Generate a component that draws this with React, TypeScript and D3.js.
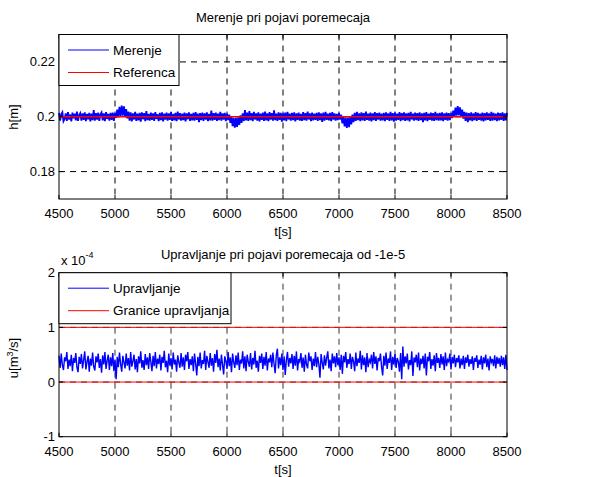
import React from 'react';
import { scaleLinear, line } from 'd3';

// time axis, 10 s step from 4500 to 8500
const tStart = 4500;
const tStep = 10;
const xTicks = [4500, 5000, 5500, 6000, 6500, 7000, 7500, 8000, 8500];

// level measurement h [m]
const merenje = [
  0.2014, 0.1986, 0.2009, 0.2016, 0.1984, 0.1992, 0.2012, 0.1985, 0.2017, 0.1990,
  0.2008, 0.1983, 0.2015, 0.1994, 0.2011, 0.1987, 0.2019, 0.1985, 0.2006, 0.2013,
  0.1986, 0.2012, 0.1989, 0.2016, 0.1984, 0.2010, 0.1991, 0.2014, 0.1983, 0.2011,
  0.1988, 0.2024, 0.1986, 0.2013, 0.1990, 0.2015, 0.1985, 0.2009, 0.2016, 0.1987,
  0.2012, 0.1984, 0.2017, 0.1992, 0.2010, 0.1986, 0.2014, 0.1989, 0.2015, 0.1985,
  0.2013, 0.1996, 0.2026, 0.2001, 0.2036, 0.2003, 0.2041, 0.2004, 0.2038, 0.2000,
  0.2028, 0.1994, 0.2019, 0.1986, 0.2016, 0.1983, 0.2012, 0.1990, 0.2018, 0.1985,
  0.2011, 0.1987, 0.2014, 0.1982, 0.2016, 0.1991, 0.2013, 0.1984, 0.2021, 0.1988,
  0.2010, 0.1986, 0.2015, 0.1989, 0.2012, 0.1985, 0.2017, 0.1992, 0.2009, 0.1984,
  0.2014, 0.1988, 0.2016, 0.1983, 0.2011, 0.1990, 0.2015, 0.1986, 0.2012, 0.1989,
  0.2017, 0.1985, 0.2010, 0.1987, 0.2014, 0.1984, 0.2019, 0.1990, 0.2013, 0.1986,
  0.2011, 0.1988, 0.2015, 0.1983, 0.2012, 0.1991, 0.2016, 0.1985, 0.2010, 0.1987,
  0.2014, 0.1986, 0.2017, 0.1989, 0.2011, 0.1980, 0.2013, 0.1988, 0.2015, 0.1985,
  0.2012, 0.1990, 0.2016, 0.1984, 0.2010, 0.1987, 0.2022, 0.1986, 0.2013, 0.1989,
  0.2015, 0.1985, 0.2011, 0.1988, 0.2018, 0.1986, 0.2012, 0.1990, 0.2014, 0.1984,
  0.2011, 0.1988, 0.2008, 0.1978, 0.2000, 0.1966, 0.1996, 0.1960, 0.1995, 0.1963,
  0.1998, 0.1970, 0.2005, 0.1978, 0.2012, 0.1984, 0.2024, 0.1987, 0.2015, 0.1985,
  0.2021, 0.1988, 0.2013, 0.1984, 0.2018, 0.1990, 0.2012, 0.1986, 0.2016, 0.1983,
  0.2011, 0.1989, 0.2015, 0.1985, 0.2019, 0.1987, 0.2012, 0.1984, 0.2017, 0.1990,
  0.2013, 0.1986, 0.2023, 0.1988, 0.2011, 0.1985, 0.2016, 0.1989, 0.2014, 0.1982,
  0.2012, 0.1987, 0.2015, 0.1984, 0.2018, 0.1990, 0.2011, 0.1986, 0.2014, 0.1988,
  0.2016, 0.1983, 0.2012, 0.1989, 0.2015, 0.1986, 0.2010, 0.1985, 0.2017, 0.1988,
  0.2013, 0.1986, 0.2019, 0.1990, 0.2012, 0.1984, 0.2015, 0.1987, 0.2011, 0.1989,
  0.2014, 0.1985, 0.2016, 0.1988, 0.2012, 0.1981, 0.2015, 0.1986, 0.2018, 0.1989,
  0.2011, 0.1987, 0.2014, 0.1984, 0.2017, 0.1990, 0.2012, 0.1986, 0.2010, 0.1988,
  0.2013, 0.1990, 0.2007, 0.1976, 0.2000, 0.1965, 0.1997, 0.1959, 0.1996, 0.1962,
  0.2000, 0.1972, 0.2008, 0.1980, 0.2014, 0.1985, 0.2018, 0.1988, 0.2012, 0.1984,
  0.2016, 0.1987, 0.2013, 0.1985, 0.2019, 0.1989, 0.2011, 0.1986, 0.2015, 0.1983,
  0.2012, 0.1988, 0.2017, 0.1985, 0.2013, 0.1990, 0.2015, 0.1986, 0.2011, 0.1987,
  0.2014, 0.1984, 0.2016, 0.1989, 0.2012, 0.1985, 0.2018, 0.1987, 0.2013, 0.1982,
  0.2015, 0.1986, 0.2011, 0.1989, 0.2017, 0.1984, 0.2013, 0.1988, 0.2016, 0.1985,
  0.2012, 0.1987, 0.2014, 0.1983, 0.2018, 0.1990, 0.2011, 0.1986, 0.2015, 0.1988,
  0.2013, 0.1985, 0.2016, 0.1988, 0.2012, 0.1980, 0.2014, 0.1987, 0.2017, 0.1984,
  0.2011, 0.1989, 0.2015, 0.1986, 0.2013, 0.1985, 0.2018, 0.1988, 0.2012, 0.1986,
  0.2014, 0.1987, 0.2016, 0.1984, 0.2012, 0.1989, 0.2015, 0.1986, 0.2013, 0.1988,
  0.2012, 0.1995, 0.2022, 0.2000, 0.2033, 0.2004, 0.2039, 0.2005, 0.2034, 0.2001,
  0.2026, 0.1993, 0.2018, 0.1985, 0.2015, 0.1980, 0.2013, 0.1987, 0.2016, 0.1984,
  0.2012, 0.1988, 0.2017, 0.1985, 0.2014, 0.1989, 0.2011, 0.1986, 0.2015, 0.1983,
  0.2013, 0.1987, 0.2016, 0.1989, 0.2012, 0.1985, 0.2018, 0.1986, 0.2014, 0.1988,
  0.2011, 0.1984, 0.2015, 0.1987, 0.2013, 0.1989, 0.2016, 0.1985, 0.2012, 0.1987,
  0.2014,
];
const referenca = 0.2;
const hTicks = [0.18, 0.2, 0.22];

// control signal u [1e-4 m^3/s]
const upravljanje = [
  0.48, 0.26, 0.52, 0.31, 0.22, 0.45, 0.38, 0.55, 0.24, 0.41,
  0.29, 0.50, 0.20, 0.44, 0.35, 0.53, 0.27, 0.18, 0.46, 0.33,
  0.51, 0.25, 0.40, 0.56, 0.23, 0.37, 0.48, 0.19, 0.43, 0.30,
  0.54, 0.28, 0.21, 0.47, 0.36, 0.52, 0.26, 0.42, 0.17, 0.49,
  0.32, 0.55, 0.24, 0.39, 0.50, 0.22, 0.45, 0.29, 0.53, 0.20,
  0.41, 0.05, 0.46, 0.27, 0.54, 0.33, 0.19, 0.48, 0.36, 0.25,
  0.52, 0.30, 0.44, 0.21, 0.55, 0.28, 0.38, 0.50, 0.23, 0.42,
  0.18, 0.47, 0.34, 0.56, 0.26, 0.40, 0.22, 0.51, 0.31, 0.45,
  0.24, 0.53, 0.37, 0.20, 0.48, 0.29, 0.55, 0.25, 0.43, 0.33,
  0.50, 0.21, 0.46, 0.35, 0.57, 0.27, 0.39, 0.18, 0.52, 0.30,
  0.44, 0.23, 0.54, 0.32, 0.41, 0.19, 0.49, 0.36, 0.26, 0.53,
  0.28, 0.45, 0.22, 0.50, 0.38, 0.55, 0.24, 0.42, 0.31, 0.47,
  0.20, 0.52, 0.34, 0.12, 0.46, 0.29, 0.54, 0.25, 0.40, 0.33,
  0.57, 0.22, 0.48, 0.37, 0.26, 0.53, 0.30, 0.44, 0.19, 0.51,
  0.35, 0.59, 0.27, 0.43, 0.21, 0.50, 0.32, 0.14, 0.47, 0.38,
  0.24, 0.55, 0.29, 0.45, 0.18, 0.52, 0.36, 0.26, 0.49, 0.31,
  0.54, 0.22, 0.41, 0.34, 0.56, 0.25, 0.47, 0.20, 0.50, 0.37,
  0.28, 0.53, 0.23, 0.44, 0.32, 0.57, 0.26, 0.39, 0.19, 0.48,
  0.35, 0.52, 0.24, 0.46, 0.30, 0.55, 0.21, 0.43, 0.36, 0.50,
  0.27, 0.54, 0.33, 0.16, 0.49, 0.61, 0.25, 0.45, 0.31, 0.52,
  0.22, 0.47, 0.13, 0.40, 0.55, 0.28, 0.44, 0.34, 0.51, 0.24,
  0.48, 0.30, 0.56, 0.21, 0.42, 0.37, 0.53, 0.26, 0.45, 0.19,
  0.50, 0.32, 0.25, 0.54, 0.38, 0.47, 0.22, 0.43, 0.29, 0.55,
  0.27, 0.46, 0.33, 0.08, 0.51, 0.36, 0.23, 0.49, 0.30, 0.44,
  0.56, 0.25, 0.41, 0.20, 0.52, 0.34, 0.47, 0.27, 0.53, 0.31,
  0.45, 0.22, 0.50, 0.15, 0.48, 0.36, 0.55, 0.26, 0.42, 0.33,
  0.52, 0.24, 0.46, 0.38, 0.20, 0.54, 0.29, 0.43, 0.35, 0.57,
  0.23, 0.49, 0.31, 0.45, 0.18, 0.53, 0.27, 0.41, 0.36, 0.50,
  0.25, 0.55, 0.33, 0.47, 0.21, 0.44, 0.38, 0.52, 0.28, 0.12,
  0.48, 0.30, 0.54, 0.24, 0.43, 0.35, 0.56, 0.22, 0.46, 0.32,
  0.51, 0.26, 0.44, 0.37, 0.19, 0.53, 0.05, 0.65, 0.28, 0.47,
  0.34, 0.52, 0.23, 0.40, 0.31, 0.56, 0.11, 0.45, 0.36, 0.50,
  0.27, 0.54, 0.21, 0.43, 0.33, 0.48, 0.25, 0.52, 0.12, 0.46,
  0.38, 0.55, 0.24, 0.42, 0.30, 0.49, 0.20, 0.53, 0.35, 0.44,
  0.26, 0.51, 0.32, 0.47, 0.22, 0.54, 0.29, 0.41, 0.37, 0.52,
  0.23, 0.46, 0.34, 0.50, 0.27, 0.44, 0.36, 0.49, 0.25, 0.43,
  0.31, 0.48, 0.24, 0.45, 0.35, 0.50, 0.28, 0.42, 0.33, 0.47,
  0.22, 0.44, 0.37, 0.49, 0.26, 0.41, 0.32, 0.48, 0.23, 0.45,
  0.34, 0.50, 0.27, 0.43, 0.21, 0.47, 0.36, 0.42, 0.29, 0.49,
  0.25, 0.46, 0.33, 0.44, 0.28, 0.48, 0.31, 0.45, 0.24, 0.50,
  0.22,
];
const granice = [0, 1];
const uTicks = [-1, 0, 1, 2];

const FONT = 'Liberation Sans, Arial, sans-serif';
const left = 59;
const right = 507;

const x = scaleLinear().domain([4500, 8500]).range([left, right]);

const Panel = ({ top, bottom, yDomain, yTicks, fmt, series, refs, grid, legend, legendW, sw, rw }) => {
  const y = scaleLinear().domain(yDomain).range([bottom, top]);
  const path = line<number>()
    .x((_, i) => x(tStart + i * tStep))
    .y(d => y(d));
  const inner = yTicks.filter(v => v > yDomain[0] && v < yDomain[1]);
  return (
    <g>
      <rect x={left} y={top} width={right - left} height={bottom - top} fill="#fff" />
      {xTicks.slice(1, -1).map(t => (
        <line key={'gx' + t} x1={x(t)} x2={x(t)} y1={top} y2={bottom}
          stroke={grid} strokeWidth={1} strokeDasharray="6,5" />
      ))}
      {inner.map(v => (
        <line key={'gy' + v} x1={left} x2={right} y1={y(v)} y2={y(v)}
          stroke={grid} strokeWidth={1} strokeDasharray="6,5" />
      ))}
      <path d={path(series) || ''} fill="none" stroke="#0000ff" strokeWidth={sw} />
      {refs.map(r => (
        <line key={'r' + r} x1={left} x2={right} y1={y(r)} y2={y(r)} stroke="#ff0000" strokeWidth={rw} />
      ))}
      <rect x={left} y={top} width={right - left} height={bottom - top} fill="none" stroke="#000" strokeWidth={1} />
      {xTicks.map(t => (
        <g key={'tx' + t}>
          <line x1={x(t)} x2={x(t)} y1={bottom} y2={bottom - 4} stroke="#000" />
          <line x1={x(t)} x2={x(t)} y1={top} y2={top + 4} stroke="#000" />
          <text x={x(t)} y={bottom + 19} textAnchor="middle" fontSize={13} fontFamily={FONT}>{t}</text>
        </g>
      ))}
      {yTicks.map(v => (
        <g key={'ty' + v}>
          <line x1={left} x2={left + 4} y1={y(v)} y2={y(v)} stroke="#000" />
          <line x1={right} x2={right - 4} y1={y(v)} y2={y(v)} stroke="#000" />
          <text x={left - 4} y={y(v) + 4.5} textAnchor="end" fontSize={13} fontFamily={FONT}>{fmt(v)}</text>
        </g>
      ))}
      <g>
        <rect x={left} y={top} width={legendW} height={51} fill="#fff" stroke="#000" strokeWidth={1} />
        {legend.map((l, i) => (
          <g key={l.name}>
            <line x1={68} x2={109} y1={top + 15.5 + i * 22.5} y2={top + 15.5 + i * 22.5} stroke={l.color} strokeWidth={1} />
            <text x={113} y={top + 20 + i * 22.5} fontSize={13.5} fontFamily={FONT}>{l.name}</text>
          </g>
        ))}
      </g>
    </g>
  );
};

export default function App() {
  return (
    <svg width={605} height={477} style={{ position: 'absolute', left: 0, top: 0, background: '#fff' }}>
      <rect width={605} height={477} fill="#fff" />
      <text x={283} y={22} textAnchor="middle" fontSize={13} fontFamily={FONT}>Merenje pri pojavi poremecaja</text>
      <Panel top={34.5} bottom={199} yDomain={[0.17, 0.23]} yTicks={hTicks}
        fmt={v => String(+v.toFixed(2))}
        series={merenje} refs={[referenca]} grid="#000" sw={1.8} rw={1.5}
        legend={[{ name: 'Merenje', color: '#0000ff' }, { name: 'Referenca', color: '#ff0000' }]}
        legendW={120} />
      <text x={283} y={236} textAnchor="middle" fontSize={13} fontFamily={FONT}>t[s]</text>
      <text transform="translate(18,117) rotate(-90)" textAnchor="middle" fontSize={13} fontFamily={FONT}>h[m]</text>

      <text x={283} y={259} textAnchor="middle" fontSize={13} fontFamily={FONT}>Upravljanje pri pojavi poremecaja od -1e-5</text>
      <Panel top={272.7} bottom={436.7} yDomain={[-1, 2]} yTicks={uTicks}
        fmt={v => String(v)}
        series={upravljanje} refs={granice} grid="#333" sw={1.4} rw={1}
        legend={[{ name: 'Upravljanje', color: '#0000ff' }, { name: 'Granice upravljanja', color: '#ff0000' }]}
        legendW={172} />
      <text x={61} y={265} fontSize={13} fontFamily={FONT}>x 10<tspan dy={-7} fontSize={9}>-4</tspan></text>
      <text x={283} y={474} textAnchor="middle" fontSize={13} fontFamily={FONT}>t[s]</text>
      <text transform="translate(18,358) rotate(-90)" textAnchor="middle" fontSize={13} fontFamily={FONT}>
        u[m<tspan dy={-5} fontSize={9}>3</tspan><tspan dy={5}>/s]</tspan>
      </text>
    </svg>
  );
}
